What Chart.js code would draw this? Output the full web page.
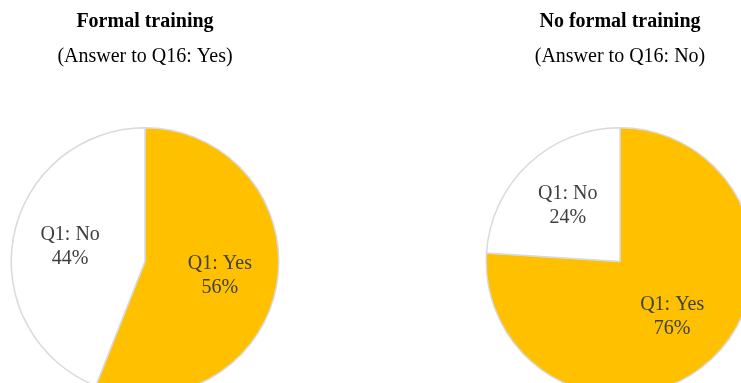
<!DOCTYPE html>
<html>
<head>
<meta charset="utf-8">
<script src="https://cdn.jsdelivr.net/npm/chart.js@4.4.1/dist/chart.umd.min.js"></script>
<style>
  html, body { margin: 0; padding: 0; background: #fff; }
  body { width: 741px; height: 383px; overflow: hidden; position: relative; }
  .pie-box { position: absolute; top: 0; width: 300px; height: 396px; }
  #leftBox { left: -5px; }
  #rightBox { left: 470px; }
</style>
</head>
<body>
<div class="pie-box" id="leftBox"><canvas id="leftChart"></canvas></div>
<div class="pie-box" id="rightBox"><canvas id="rightChart"></canvas></div>

<script>
// ============================
// DATA
// ============================
const categories = ["Q1: Yes", "Q1: No"];
const formalValues = [56, 44];
const noFormalValues = [76, 24];
const titles = ["Formal training", "No formal training"];
const subtitles = ["(Answer to Q16: Yes)", "(Answer to Q16: No)"];
const sliceColors = ["#FFC000", "#FFFFFF"];

const SERIF = "'Liberation Serif', 'Times New Roman', serif";

// ============================
// SLICE LABELS (name + percent inside each slice)
// ============================
const sliceLabels = {
  id: "sliceLabels",
  afterDatasetsDraw(chart) {
    const { ctx } = chart;
    const meta = chart.getDatasetMeta(0);
    const values = chart.data.datasets[0].data;
    ctx.save();
    ctx.font = "20px " + SERIF;
    ctx.fillStyle = "#404040";
    ctx.textAlign = "center";
    ctx.textBaseline = "middle";
    meta.data.forEach((arc, i) => {
      const p = arc.getProps(["x", "y", "startAngle", "endAngle", "outerRadius"], true);
      const mid = (p.startAngle + p.endAngle) / 2;
      const r = p.outerRadius * 0.57;
      const x = p.x + Math.cos(mid) * r;
      const y = p.y + Math.sin(mid) * r;
      ctx.fillText(chart.data.labels[i], x, y - 12);
      ctx.fillText(values[i] + "%", x, y + 12);
    });
    ctx.restore();
  }
};

// ============================
// PIE CHART
// ============================
function renderPie(canvasId, values, title, subtitle) {
  const ctx = document.getElementById(canvasId).getContext("2d");

  new Chart(ctx, {
    type: "pie",
    data: {
      labels: categories,
      datasets: [
        {
          data: values,
          backgroundColor: sliceColors,
          borderColor: "#D9D9D9",
          borderWidth: 1.5
        }
      ]
    },
    options: {
      responsive: true,
      maintainAspectRatio: false,
      animation: false,
      layout: { padding: { left: 15, right: 15, top: 0, bottom: 0 } },
      plugins: {
        legend: { display: false },
        tooltip: { enabled: false },
        title: {
          display: true,
          text: title,
          color: "#000",
          font: { family: SERIF, size: 20, weight: "bold", lineHeight: 1.2 },
          padding: { top: 10, bottom: 6 }
        },
        subtitle: {
          display: true,
          text: subtitle,
          color: "#000",
          font: { family: SERIF, size: 20, lineHeight: 1.2 },
          padding: { top: 5, bottom: 58 }
        }
      }
    },
    plugins: [sliceLabels]
  });
}

renderPie("leftChart", formalValues, titles[0], subtitles[0]);
renderPie("rightChart", noFormalValues, titles[1], subtitles[1]);
</script>
</body>
</html>
